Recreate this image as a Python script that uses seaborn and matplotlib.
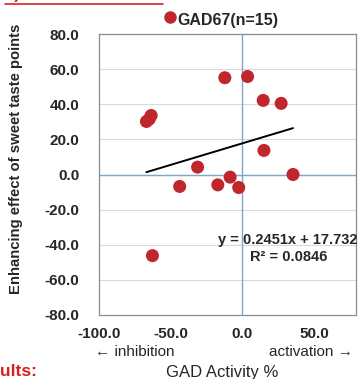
import matplotlib
matplotlib.use("Agg")
import matplotlib.pyplot as plt
import numpy as np
import pandas as pd
import seaborn as sns

# GAD activity (%) vs enhancing effect of sweet taste points
GAD_ACTIVITY = [-66.9, -63.6, -12.2, 3.7, 14.6, 27.1, 15.1, -31.2, -43.7, -17.1, -8.5, -2.5, 35.4, -62.7, -65.0]
SWEET_EFFECT = [30.2, 33.6, 55.1, 55.8, 42.2, 40.5, 13.7, 4.2, -6.8, -5.9, -1.5, -7.4, 0.0, -46.2, 31.5]
SLOPE = 0.2451
INTERCEPT = 17.732
R2 = 0.0846
X_TICKS = [-100, -50, 0, 50]
Y_TICKS = [-80, -60, -40, -20, 0, 20, 40, 60, 80]

sns.set_style("white")
plt.rcParams["font.family"] = ["Liberation Sans", "DejaVu Sans"]

df = pd.DataFrame({"x": GAD_ACTIVITY, "y": SWEET_EFFECT})
x_fit = np.array([min(GAD_ACTIVITY), max(GAD_ACTIVITY)])
fit = pd.DataFrame({"x": x_fit, "y": SLOPE * x_fit + INTERCEPT})

W, H = 359, 379
fig = plt.figure(figsize=(W / 100, H / 100), dpi=100)
ax = fig.add_axes([99 / W, 1 - 315 / H, 256.5 / W, 281 / H])

for v in Y_TICKS:
    ax.axhline(v, color="#d9d9d9", lw=0.8, zorder=0)
ax.axhline(0, color="#7fa7c6", lw=1.0, zorder=1)
ax.axvline(0, color="#7fa7c6", lw=1.0, zorder=1)

sns.lineplot(data=fit, x="x", y="y", color="black", lw=1.4, ax=ax, zorder=2)
sns.scatterplot(data=df, x="x", y="y", color="#c0272d", s=88, edgecolor="none",
                ax=ax, zorder=3, legend=False)

ax.set_xlim(-100, 79)
ax.set_ylim(-80, 80)
ax.set_xticks(X_TICKS)
ax.set_yticks(Y_TICKS)
ax.set_xticklabels([f"{v:.1f}" for v in X_TICKS], fontweight="bold", fontsize=11)
ax.set_yticklabels([f"{v:.1f}" for v in Y_TICKS], fontweight="bold", fontsize=11)
ax.tick_params(axis="y", length=3, color="#999999", pad=11)
ax.tick_params(axis="x", length=0, pad=9)
for s in ax.spines.values():
    s.set_color("#8c8c8c")
    s.set_linewidth(0.9)
ax.set_xlabel("")
ax.set_ylabel("")

fig.text(16 / W, 1 - 159 / H, "Enhancing effect of sweet taste points", rotation=90,
         ha="center", va="center", fontweight="bold", fontsize=10.7)
fig.text(135 / W, 1 - 352 / H, "\u2190 inhibition", ha="center", va="center", fontsize=11)
fig.text(311 / W, 1 - 352 / H, "activation \u2192", ha="center", va="center", fontsize=11)
fig.text(222 / W, 1 - 372 / H, "GAD Activity %", ha="center", va="center", fontsize=12)
fig.text(38 / W, 1 - 371 / H, "Results:", ha="right", va="center", fontsize=12.5,
         fontweight="bold", color="#d42020")

fig.text(357 / W, 1 - 240 / H, f"y = {SLOPE}x + {INTERCEPT}",
         ha="right", va="center", fontweight="bold", fontsize=10.5)
fig.text(289 / W, 1 - 257 / H, f"R\u00b2 = {R2}",
         ha="center", va="center", fontweight="bold", fontsize=10.5)

# legend
ax.plot([170 / W], [1 - 17 / H], "o", ms=8, color="#c0272d",
        transform=fig.transFigure, clip_on=False)
fig.text(177 / W, 1 - 20 / H, "GAD67(n=15)", ha="left", va="center",
         fontweight="bold", fontsize=11.5)

# cropped heading at the very top
fig.text(5 / W, 1.0 - 2 / H, "2) Sweet taste", ha="left", va="bottom",
         fontsize=12, fontweight="bold", color="#d42020")
fig.add_artist(plt.Line2D([5 / W, 163 / W], [1 - 4 / H, 1 - 4 / H],
                          color="#d42020", lw=1.2, transform=fig.transFigure))

fig.savefig("out.png", dpi=100)
